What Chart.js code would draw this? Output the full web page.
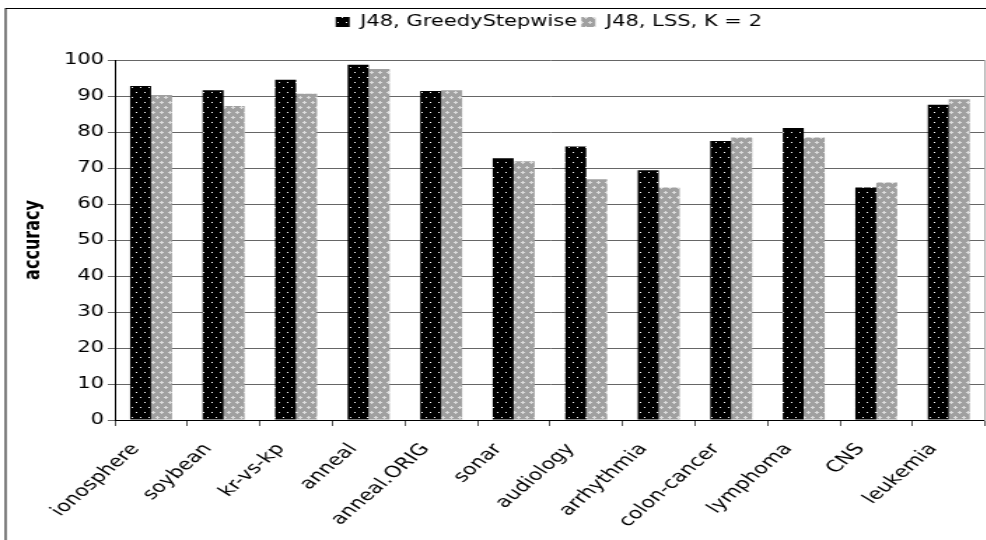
<!DOCTYPE html>
<html>
<head>
<meta charset="utf-8">
<script src="https://cdn.jsdelivr.net/npm/chart.js@4.4.0/dist/chart.umd.min.js"></script>
<style>
html, body { margin: 0; padding: 0; background: #fff; }
#wrap { width: 986px; height: 540px; overflow: hidden; }
#chart { display: block; transform: scaleX(1.4); transform-origin: 0 0; }
</style>
</head>
<body>
<div id="wrap"><canvas id="chart" width="784" height="540" style="width:784px;height:540px"></canvas></div>
<script>
const categories = ["ionosphere", "soybean", "kr-vs-kp", "anneal", "anneal.ORIG", "sonar",
    "audiology", "arrhythmia", "colon-cancer", "lymphoma", "CNS", "leukemia"];
const greedyStepwise = [92.8, 91.6, 94.5, 98.7, 91.4, 72.7, 76.0, 69.4, 77.5, 81.1, 64.6, 87.6];
const lssK2 = [90.3, 87.2, 90.6, 97.5, 91.6, 71.9, 66.9, 64.6, 78.5, 78.5, 66.0, 89.1];
const seriesNames = ["J48, GreedyStepwise", "J48, LSS, K = 2"];
const yTitle = "accuracy";

// black with white dots
function dotPattern() {
    const c = document.createElement('canvas');
    c.width = 6; c.height = 10;
    const g = c.getContext('2d');
    g.fillStyle = '#000';
    g.fillRect(0, 0, 6, 10);
    g.fillStyle = '#fff';
    g.fillRect(1, 2, 1, 1);
    g.fillRect(4, 7, 1, 1);
    return g.createPattern(c, 'repeat');
}

// grey stipple with small white crosses
function crossPattern() {
    const c = document.createElement('canvas');
    c.width = 6; c.height = 10;
    const g = c.getContext('2d');
    g.fillStyle = '#a0a0a0';
    g.fillRect(0, 0, 6, 10);
    g.fillStyle = '#dcdcdc';
    [[1, 2], [4, 7]].forEach(([cx, cy]) => {
        g.fillRect(cx - 1, cy, 3, 1);
        g.fillRect(cx, cy - 1, 1, 3);
    });
    return g.createPattern(c, 'repeat');
}

const frame = {
    id: 'frame',
    beforeInit(chart) {
        const fit = chart.legend.fit;
        chart.legend.fit = function () {
            fit.call(this);
            this.height += 20.5;
        };
    },
    beforeDraw(chart) {
        const ctx = chart.ctx;
        ctx.save();
        ctx.fillStyle = '#fff';
        ctx.fillRect(0, 0, chart.width, chart.height);
        ctx.strokeStyle = '#000';
        ctx.lineWidth = 1;
        ctx.strokeRect(4, 8.5, 2000, 2000);
        ctx.restore();
    }
};

Chart.defaults.font.family = "'DejaVu Sans', Verdana, sans-serif";
Chart.defaults.font.size = 15;
Chart.defaults.color = '#000';

new Chart(document.getElementById('chart'), {
    type: 'bar',
    data: {
        labels: categories,
        datasets: [
            { label: seriesNames[0], data: greedyStepwise, backgroundColor: dotPattern(), borderWidth: 0 },
            { label: seriesNames[1], data: lssK2, backgroundColor: crossPattern(), borderWidth: 0 }
        ]
    },
    options: {
        responsive: false,
        animation: false,
        events: [],
        layout: { padding: { top: 11.5, left: 0, right: 0, bottom: 0 } },
        datasets: { bar: { categoryPercentage: 0.578, barPercentage: 1.0 } },
        plugins: {
            legend: {
                position: 'top',
                labels: { boxWidth: 10, boxHeight: 10, padding: 3, font: { size: 15 } }
            },
            tooltip: { enabled: false }
        },
        scales: {
            x: {
                offset: true,
                grid: { offset: true, drawOnChartArea: false, tickLength: 6, color: '#555' },
                border: { color: '#000' },
                ticks: { minRotation: 50, maxRotation: 50, autoSkip: false, padding: 14, labelOffset: -11, font: { size: 16 } },
                afterFit(scale) { scale.height = 120; }
            },
            y: {
                min: 0, max: 100,
                ticks: { stepSize: 10, padding: 2.7, font: { size: 15 } },
                grid: { color: '#666', tickLength: 5 },
                border: { color: '#000' },
                title: { display: true, text: yTitle, font: { size: 16, weight: 'bold' }, padding: { top: 14.7, bottom: 0 } },
                afterFit(scale) { scale.width = 82; }
            },
            right: {
                type: 'linear',
                position: 'right',
                display: true,
                ticks: { display: false },
                grid: { display: false, drawTicks: false },
                border: { display: true, color: '#aaa' },
                afterFit(scale) { scale.width = 80.4; }
            }
        }
    },
    plugins: [frame]
});
</script>
</body>
</html>
